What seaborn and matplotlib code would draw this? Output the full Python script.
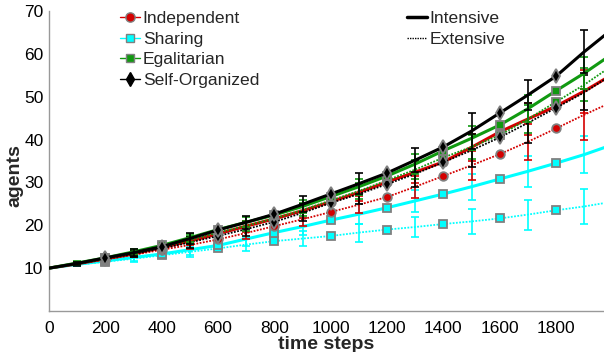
import numpy as np
import pandas as pd
import matplotlib
matplotlib.use("Agg")
import matplotlib.pyplot as plt
from matplotlib.lines import Line2D
import seaborn as sns

# ---------------- data ----------------
steps = [0, 100, 200, 300, 400, 500, 600, 700, 800, 900, 1000,
         1100, 1200, 1300, 1400, 1500, 1600, 1700, 1800, 1900, 2000]

indep_int = [10, 11.0, 12.2, 13.3, 14.8, 16.3, 18.0, 19.8, 21.5, 23.4, 25.5,
             27.7, 30.1, 32.4, 34.8, 38.2, 41.8, 44.8, 47.8, 51.3, 55.2]
indep_ext = [10, 11.0, 12.0, 13.1, 14.3, 15.4, 16.7, 18.2, 19.8, 21.4, 23.1,
             24.8, 26.6, 29.0, 31.5, 34.0, 36.6, 39.5, 42.6, 45.8, 48.8]
share_int = [10, 10.9, 11.7, 12.5, 13.3, 14.3, 15.3, 16.8, 18.3, 19.7, 21.2,
             22.6, 24.1, 25.7, 27.3, 29.0, 30.8, 32.6, 34.5, 36.5, 38.8]
share_ext = [10, 10.8, 11.5, 12.2, 13.0, 13.8, 14.6, 15.5, 16.3, 16.9, 17.5,
             18.3, 19.0, 19.6, 20.3, 20.9, 21.6, 22.5, 23.5, 24.4, 25.5]
egal_int = [10, 11.2, 12.4, 13.8, 15.3, 17.1, 19.0, 20.7, 22.4, 24.4, 26.7,
            29.0, 31.5, 34.3, 37.4, 40.3, 43.4, 47.2, 51.4, 55.5, 60.0]
egal_ext = [10, 11.1, 12.3, 13.5, 14.9, 16.5, 18.3, 19.9, 21.6, 23.6, 25.8,
            28.0, 30.5, 33.0, 35.8, 38.3, 41.0, 44.8, 48.8, 52.8, 57.3]
self_int = [10, 11.1, 12.4, 13.6, 15.0, 16.9, 18.9, 20.7, 22.6, 24.9, 27.3,
            29.7, 32.2, 35.2, 38.3, 42.0, 46.2, 50.4, 54.8, 60.5, 65.8]
self_ext = [10, 11.0, 12.2, 13.3, 14.6, 16.0, 17.5, 19.1, 20.8, 22.9, 25.2,
            27.3, 29.6, 32.0, 34.7, 37.5, 40.5, 43.9, 47.4, 51.0, 55.2]

# error bar half-widths at odd hundreds (100, 300, ..., 1900)
err_steps = [100, 300, 500, 700, 900, 1100, 1300, 1500, 1700, 1900]
indep_int_err = [0.3, 0.6, 1.0, 1.3, 1.6, 2.0, 2.5, 3.2, 3.8, 5.0]
indep_ext_err = [0.3, 0.6, 1.0, 1.3, 1.6, 2.0, 2.6, 3.4, 4.2, 6.0]
share_int_err = [0.3, 0.8, 1.3, 1.7, 2.0, 2.3, 2.6, 3.0, 3.6, 4.4]
share_ext_err = [0.3, 0.8, 1.2, 1.5, 1.8, 2.1, 2.4, 2.9, 3.5, 4.0]
egal_int_err = [0.4, 0.6, 0.9, 1.2, 1.5, 1.9, 2.3, 2.8, 3.2, 3.8]
egal_ext_err = [0.4, 0.6, 0.9, 1.2, 1.5, 1.9, 2.3, 2.8, 3.2, 3.8]
self_int_err = [0.4, 0.8, 1.2, 1.5, 1.9, 2.4, 2.8, 4.2, 3.6, 5.0]
self_ext_err = [0.4, 0.8, 1.2, 1.6, 2.0, 2.4, 3.0, 3.8, 4.7, 4.1]

marker_steps = [200, 400, 600, 800, 1000, 1200, 1400, 1600, 1800]

strategies = ["Independent", "Sharing", "Egalitarian", "Self-Organized"]
modes = ["Intensive", "Extensive"]

series = {
    ("Independent", "Intensive"): (indep_int, indep_int_err),
    ("Independent", "Extensive"): (indep_ext, indep_ext_err),
    ("Sharing", "Intensive"): (share_int, share_int_err),
    ("Sharing", "Extensive"): (share_ext, share_ext_err),
    ("Egalitarian", "Intensive"): (egal_int, egal_int_err),
    ("Egalitarian", "Extensive"): (egal_ext, egal_ext_err),
    ("Self-Organized", "Intensive"): (self_int, self_int_err),
    ("Self-Organized", "Extensive"): (self_ext, self_ext_err),
}

colors = {"Independent": "#d40000", "Sharing": "#00ffff",
          "Egalitarian": "#119911", "Self-Organized": "#000000"}
markers = {"Independent": "o", "Sharing": "s",
           "Egalitarian": "s", "Self-Organized": "d"}
msizes = {"Independent": 6.2, "Sharing": 5.6, "Egalitarian": 5.6, "Self-Organized": 7}

rows = []
for (strat, mode), (vals, _) in series.items():
    for s, v in zip(steps, vals):
        rows.append({"step": s, "agents": v, "strategy": strat, "mode": mode})
df = pd.DataFrame(rows)

# ---------------- figure ----------------
sns.set_style("white")
plt.rcParams["font.family"] = ["Liberation Sans", "DejaVu Sans"]

fig = plt.figure(figsize=(6.04, 3.52), dpi=100)
ax = fig.add_axes([49 / 604, 1 - 311 / 352, 1 - 49 / 604, 300 / 352])

order = [("Sharing", "Extensive"), ("Sharing", "Intensive"),
         ("Independent", "Extensive"), ("Independent", "Intensive"),
         ("Egalitarian", "Extensive"), ("Self-Organized", "Extensive"),
         ("Egalitarian", "Intensive"), ("Self-Organized", "Intensive")]

for z, (strat, mode) in enumerate(order):
    sub = df[(df.strategy == strat) & (df["mode"] == mode)]
    lw = 2.2 if mode == "Intensive" else 1.3
    ls = "-" if mode == "Intensive" else (0, (1, 0.8))
    sns.lineplot(data=sub, x="step", y="agents", color=colors[strat],
                 linewidth=lw, linestyle=ls, ax=ax, zorder=3 + z, legend=False)
    vals, errs = series[(strat, mode)]
    ev = [vals[steps.index(s)] for s in err_steps]
    ax.errorbar(err_steps, ev, yerr=errs, fmt="none", ecolor=colors[strat],
                elinewidth=1.2, capsize=3, capthick=1.2, zorder=3 + z)
    mv = [vals[steps.index(s)] for s in marker_steps]
    ax.plot(marker_steps, mv, linestyle="none", marker=markers[strat],
            markersize=msizes[strat], markerfacecolor=colors[strat],
            markeredgecolor="#808080", markeredgewidth=1.3, zorder=3 + z)

ax.set_xlim(0, 1970)
ax.set_ylim(0, 70)
ax.set_xticks(range(0, 1801, 200))
ax.set_yticks(range(10, 71, 10))
ax.tick_params(axis="both", direction="in", length=4, width=0.8,
               color="#999999", labelsize=12.5, labelcolor="black")
ax.tick_params(axis="x", pad=7)
ax.tick_params(axis="y", pad=4)
for sp in ["top", "right"]:
    ax.spines[sp].set_visible(False)
for sp in ["left", "bottom"]:
    ax.spines[sp].set_color("#999999")
    ax.spines[sp].set_linewidth(1.0)

ax.set_xlabel("time steps", fontsize=14, fontweight="bold", labelpad=0)
ax.set_ylabel("agents", fontsize=14, fontweight="bold")
ax.yaxis.set_label_coords(-0.047, 0.45)

# legends
h1 = [Line2D([0], [0], color=colors[s], lw=1.0, marker=markers[s],
             markersize=msizes[s] + 0.5, markerfacecolor=colors[s],
             markeredgecolor="#808080" if s != "Self-Organized" else "black",
             markeredgewidth=1.0) for s in strategies]
leg1 = ax.legend(h1, strategies, loc="upper left",
                 bbox_to_anchor=(120 / 604, 1 - 11 / 352),
                 bbox_transform=fig.transFigure, frameon=False,
                 fontsize=12.6, handlelength=1.15, handletextpad=0.15,
                 labelspacing=0.3, borderpad=0, borderaxespad=0)
ax.add_artist(leg1)
h2 = [Line2D([0], [0], color="black", lw=2.5),
      Line2D([0], [0], color="black", lw=1.0, linestyle=(0, (1, 0.8)))]
ax.legend(h2, modes, loc="upper left",
          bbox_to_anchor=(407 / 604, 1 - 11 / 352),
          bbox_transform=fig.transFigure, frameon=False,
          fontsize=12.6, handlelength=1.15, handletextpad=0.15,
          labelspacing=0.3, borderpad=0, borderaxespad=0)

fig.savefig("out.png", dpi=100)
